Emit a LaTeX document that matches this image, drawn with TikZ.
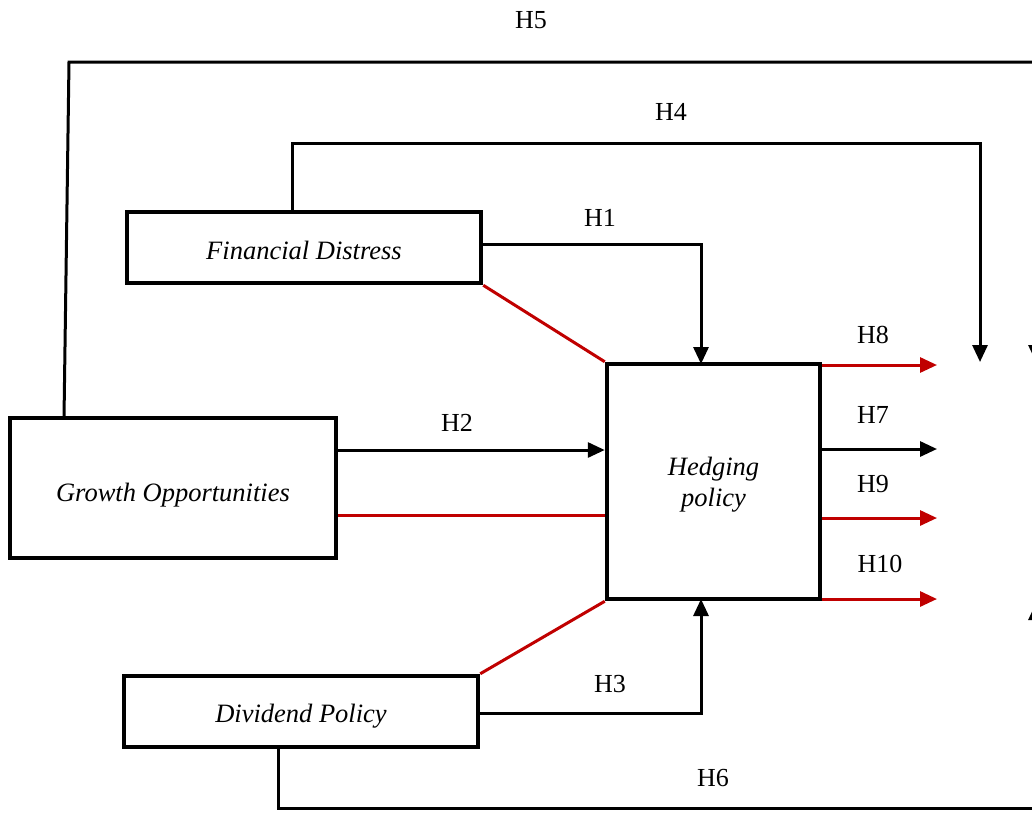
\documentclass[tikz,border=0pt]{standalone}
\usepackage{fontspec}
\setmainfont{Liberation Serif}
\usetikzlibrary{arrows.meta}
\definecolor{dred}{RGB}{192,0,0}
\tikzset{
  box/.style={draw=black, line width=4.5pt, fill=white, inner sep=0pt},
  btext/.style={inner sep=0pt, font=\fontsize{26.5}{31}\selectfont\itshape, align=center},
  conn/.style={draw=black, line width=3pt},
  redl/.style={draw=dred, line width=3pt},
  arr/.style={-{Triangle[length=17pt,width=15pt]}},
  lbl/.style={font=\fontsize{26}{30}\selectfont, inner sep=0pt}
}
\begin{document}
\begin{tikzpicture}[x=1pt,y=-1pt]
\useasboundingbox (0,0) rectangle (1032,812);
\begin{scope}
\clip (0,0) rectangle (1032,812);
% boxes
\node[box, minimum width=354pt, minimum height=71pt] (fd) at (304,247.5) {};
\node[box, minimum width=326pt, minimum height=140pt] (go) at (173,488) {};
\node[box, minimum width=354pt, minimum height=71pt] (dp) at (301,711.5) {};
\node[box, minimum width=213pt, minimum height=235pt] (hp) at (713.5,481.5) {};
% right side coordinates
\coordinate (h8e) at (937,365);
\coordinate (h7e) at (937,449);
\coordinate (h9e) at (937,518);
\coordinate (h10e) at (937,599);
\coordinate (h4t) at (980,362);
\coordinate (h5t) at (1036,362);
\coordinate (h6t) at (1036,603);
% H5
\draw[conn, arr] (64,418) -- (69,62) -- (1036,62) -- (h5t);
% H4
\draw[conn, arr] (292,212) -- (292,143) -- (980,143) -- (h4t);
% H1
\draw[conn, arr] (fd.east |- 0,244) -- (701,244) -- (701,364);
% H2
\draw[conn, arr] (go.east |- 0,450) -- (hp.west |- 0,450);
% red lines
\draw[redl] (go.east |- 0,515) -- (hp.west |- 0,515);
\draw[redl] (fd.south east) -- (hp.north west);
\draw[redl] (dp.north east) -- (hp.south west);
% H3
\draw[conn, arr] (dp.east |- 0,713) -- (701,713) -- (701,599);
% H6
\draw[conn, arr] (278,747) -- (278,808) -- (1036,808) -- (h6t);
% outgoing arrows
\draw[redl, arr] (hp.east |- h8e) -- (h8e);
\draw[conn, arr] (hp.east |- h7e) -- (h7e);
\draw[redl, arr] (hp.east |- h9e) -- (h9e);
\draw[redl, arr] (hp.east |- h10e) -- (h10e);
% redraw boxes on top
\node[box, minimum width=354pt, minimum height=71pt] at (fd) {};
\node[box, minimum width=326pt, minimum height=140pt] at (go) {};
\node[box, minimum width=354pt, minimum height=71pt] at (dp) {};
\node[box, minimum width=213pt, minimum height=235pt] at (hp) {};
% box texts
\node[btext] (tfd) at ([yshift=-3pt]fd.center) {Financial Distress};
\node[btext] (tgo) at ([yshift=-7pt]go.center) {Growth Opportunities};
\node[btext] (tdp) at ([yshift=-5pt]dp.center) {Dividend Policy};
\node[btext] (thp) at ([yshift=-3pt]hp.center) {Hedging\\policy};
% labels
\node[lbl] (l5) at (531,20) {H5};
\node[lbl] (l4) at (671,112) {H4};
\node[lbl] (l1) at (600,218) {H1};
\node[lbl] (l2) at (457,423) {H2};
\node[lbl] (l8) at (873,335) {H8};
\node[lbl] (l7) at (873,415) {H7};
\node[lbl] (l9) at (873,484) {H9};
\node[lbl] (l10) at (880,564) {H10};
\node[lbl] (l3) at (610,684) {H3};
\node[lbl] (l6) at (713,778) {H6};
\end{scope}
\end{tikzpicture}
\end{document}
